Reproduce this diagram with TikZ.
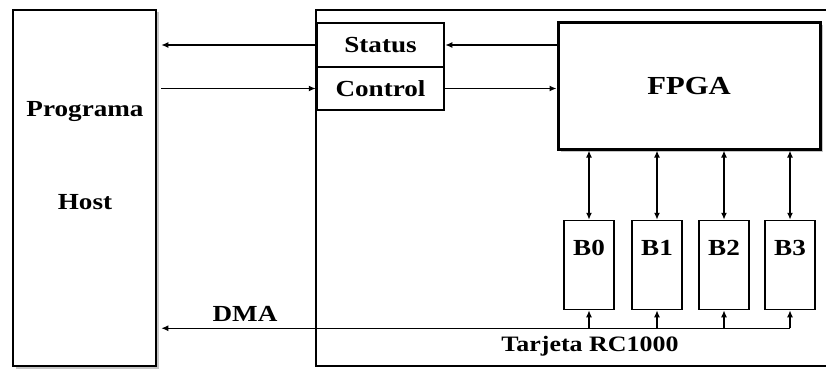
\documentclass[tikz,border=0pt]{standalone}
\usepackage{fontspec}
\setmainfont{Liberation Serif}[FakeStretch=1.18]
\usetikzlibrary{arrows.meta,shadows}
\begin{document}
\begin{tikzpicture}[x=1pt,y=-1pt,
	every node/.style={font=\fontsize{23}{27}\selectfont\bfseries},
	caja/.style={draw,line width=2.5pt,fill=white,inner sep=0pt},
	sombra/.style={drop shadow={shadow xshift=2.5pt,shadow yshift=-2.5pt,fill=gray!45,opacity=1}},
	bloque/.style={draw,line width=1.5pt,fill=white,minimum width=50pt,minimum height=89pt,inner sep=0pt},
	flecha/.style={line width=1.4pt,-{Latex[length=7pt,width=6pt]}},
	dflecha/.style={line width=1.4pt,{Latex[length=7pt,width=6pt]}-{Latex[length=7pt,width=6pt]}}]
	\useasboundingbox (0,0) rectangle (826,369);
	
	% Programa Host
	\node[caja,sombra,minimum width=143pt,minimum height=356pt] (host) at (84.5,188) {};
	\node (prog) at (85,112) {Programa};
	\node (hosttxt) at (85,202) {Host};
	
	% Tarjeta RC1000
	\draw[line width=2pt] (826,10) -- (316,10) -- (316,366) -- (826,366);
	\node[font=\fontsize{22}{26}\selectfont\bfseries] (tarjeta) at (590,346) {Tarjeta RC1000};
	
	% registros
	\node[caja,minimum width=127pt,minimum height=44pt] (status) at (380.5,45) {Status};
	\node[caja,minimum width=127pt,minimum height=43pt] (control) at (380.5,88.5) {Control};
	
	% FPGA
	\node[caja,line width=3pt,sombra,minimum width=262pt,minimum height=126pt,
		font=\fontsize{26}{30}\selectfont\bfseries] (fpga) at (689,86) {FPGA};
	
	% bancos de memoria
	\foreach \i/\x in {0/589,1/657,2/724,3/790}{
		\node[bloque] (b\i) at (\x,265) {};
		\node (bt\i) at (\x,248) {B\i};
		\draw[dflecha] (b\i.north |- fpga.south) -- (b\i.north);
	}
	
	% conexiones
	\draw[flecha,shorten >=4pt] (status.west) -- (host.east |- status.west);
	\draw[flecha,shorten <=4pt] (host.east |- control.west) -- (control.west);
	\draw[flecha] (fpga.west |- status.east) -- (status.east);
	\draw[flecha] (control.east) -- (fpga.west |- control.east);
	
	% DMA
	\path (b3.south) ++(0,18) coordinate (bus);
	\draw[flecha,shorten >=4pt] (bus) -- (host.east |- bus);
	\foreach \i in {0,1,2,3}
		\draw[flecha] (b\i.south |- bus) -- (b\i.south);
	\node (dma) at (245,314) {DMA};
	
\end{tikzpicture}
\end{document}
